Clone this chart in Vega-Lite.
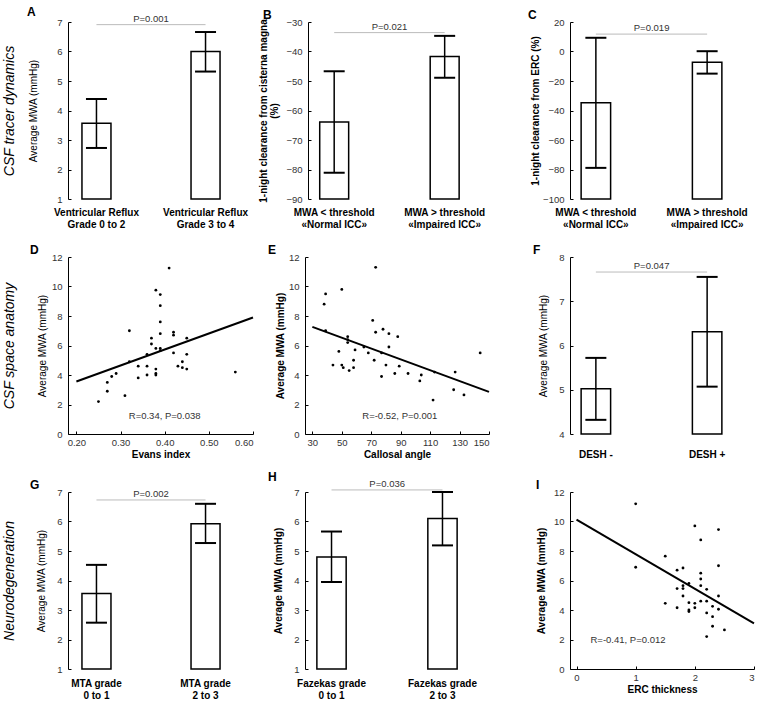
{
  "$schema": "https://vega.github.io/schema/vega-lite/v6.json",
  "padding": {"left": 2, "top": 5, "right": 0, "bottom": 0},
  "bounds": "flush",
  "columns": 3,
  "spacing": {"row": 58, "column": 52},
  "config": {
    "font": "Liberation Sans",
    "view": {"stroke": null},
    "axis": {"grid": false, "domainColor": "#000", "domainWidth": 1, "tickColor": "#000", "tickSize": -3, "labelColor": "#333", "labelFontSize": 9.5, "labelPadding": 9, "labelOverlap": false, "titleFontSize": 10, "titleFontWeight": "normal", "titleColor": "#000"},
    "title": {"fontSize": 12, "fontWeight": "bold", "anchor": "start", "frame": "group", "offset": -5, "color": "#000"}
  },
  "concat": [
    {
      "width": 166, "height": 177,
      "title": {"text": "A", "dx": -41},
      "resolve": {"scale": {"y": "independent"}},
      "layer": [
        {
          "data": {"values": [
            {"group": "Ventricular Reflux\nGrade 0 to 2", "mean": 3.57, "lo": 2.73, "hi": 4.39},
            {"group": "Ventricular Reflux\nGrade 3 to 4", "mean": 6.0, "lo": 5.32, "hi": 6.66}
          ]},
          "layer": [
            {"mark": {"type": "bar", "fill": "white", "stroke": "black", "strokeWidth": 1.5},
             "encoding": {
               "x": {"field": "group", "type": "nominal", "scale": {"domain": ["Ventricular Reflux\nGrade 0 to 2", "Ventricular Reflux\nGrade 3 to 4"], "paddingInner": 0.734, "paddingOuter": 0.128},
                     "axis": {"title": null, "domain": false, "ticks": false, "labelAngle": 0, "labelFontWeight": "bold", "labelFontSize": 10, "labelColor": "#000", "labelPadding": 8, "labelLineHeight": 12, "labelExpr": "split(datum.label, '\\n')"}},
               "y": {"field": "mean", "type": "quantitative", "scale": {"domain": [1, 7], "nice": false, "zero": false},
                     "axis": {"values": [1, 2, 3, 4, 5, 6, 7], "tickCount": 20, "format": "d", "labelOverlap": false, "title": "Average MWA (mmHg)", "titlePadding": 18}},
               "y2": {"datum": 1}
             }},
            {"mark": {"type": "rule", "strokeWidth": 1.5, "color": "black"},
             "encoding": {"x": {"field": "group", "type": "nominal"}, "y": {"field": "lo", "type": "quantitative"}, "y2": {"field": "hi"}}},
            {"mark": {"type": "tick", "thickness": 2, "size": 21, "orient": "horizontal", "color": "black", "opacity": 1},
             "encoding": {"x": {"field": "group", "type": "nominal"}, "y": {"field": "lo", "type": "quantitative"}}},
            {"mark": {"type": "tick", "thickness": 2, "size": 21, "orient": "horizontal", "color": "black", "opacity": 1},
             "encoding": {"x": {"field": "group", "type": "nominal"}, "y": {"field": "hi", "type": "quantitative"}}}
          ]
        },
        {
          "layer": [
            {"data": {"values": [{"group": "Ventricular Reflux\nGrade 0 to 2", "p": 6.91}, {"group": "Ventricular Reflux\nGrade 3 to 4", "p": 6.91}]},
             "mark": {"type": "line", "stroke": "#bbb", "strokeWidth": 1},
             "encoding": {"x": {"field": "group", "type": "nominal"},
                          "y": {"field": "p", "type": "quantitative", "scale": {"domain": [1, 7], "nice": false, "zero": false},
                                "axis": {"orient": "left", "offset": 52, "domain": false, "ticks": false, "labels": false, "title": "CSF tracer dynamics", "titleFontStyle": "italic", "titleFontWeight": "normal", "titleFontSize": 14, "titlePadding": 0}}}},
            {"data": {"values": [{"group": "Ventricular Reflux\nGrade 0 to 2", "p": 6.91, "label": "P=0.001"}]},
             "mark": {"type": "text", "baseline": "bottom", "dy": -1, "fontSize": 9.5, "color": "#333"},
             "encoding": {"x": {"field": "group", "type": "nominal", "bandPosition": 2.38}, "y": {"field": "p", "type": "quantitative"}, "text": {"field": "label"}}}
          ]
        }
      ]
    },
    {
      "width": 213, "height": 177,
      "title": {"text": "B", "dx": -42},
      "layer": [
        {
          "data": {"values": [
            {"group": "MWA < threshold\n«Normal ICC»", "mean": -63.9, "lo": -81.1, "hi": -46.7},
            {"group": "MWA > threshold\n«Impaired ICC»", "mean": -41.7, "lo": -48.9, "hi": -34.7}
          ]},
          "layer": [
            {"mark": {"type": "bar", "fill": "white", "stroke": "black", "strokeWidth": 1.5},
             "encoding": {
               "x": {"field": "group", "type": "nominal", "scale": {"domain": ["MWA < threshold\n«Normal ICC»", "MWA > threshold\n«Impaired ICC»"], "paddingInner": 0.738, "paddingOuter": 0.333, "align": 0.2},
                     "axis": {"title": null, "domain": false, "ticks": false, "labelAngle": 0, "labelFontWeight": "bold", "labelFontSize": 10, "labelColor": "#000", "labelPadding": 8, "labelLineHeight": 12, "labelExpr": "split(datum.label, '\\n')"}},
               "y": {"field": "mean", "type": "quantitative", "scale": {"domain": [-90, -30], "nice": false, "zero": false},
                     "axis": {"offset": -3, "values": [-90, -80, -70, -60, -50, -40, -30], "tickCount": 20, "format": "d", "labelOverlap": false, "title": ["1-night clearance from cisterna magna", "(%)"], "titleFontWeight": "bold", "titleLineHeight": 11, "titlePadding": 6}},
               "y2": {"datum": -90}
             }},
            {"mark": {"type": "rule", "strokeWidth": 1.5, "color": "black"},
             "encoding": {"x": {"field": "group", "type": "nominal"}, "y": {"field": "lo", "type": "quantitative"}, "y2": {"field": "hi"}}},
            {"mark": {"type": "tick", "thickness": 2, "size": 21, "orient": "horizontal", "color": "black", "opacity": 1},
             "encoding": {"x": {"field": "group", "type": "nominal"}, "y": {"field": "lo", "type": "quantitative"}}},
            {"mark": {"type": "tick", "thickness": 2, "size": 21, "orient": "horizontal", "color": "black", "opacity": 1},
             "encoding": {"x": {"field": "group", "type": "nominal"}, "y": {"field": "hi", "type": "quantitative"}}}
          ]
        },
        {"data": {"values": [{"group": "MWA < threshold\n«Normal ICC»", "p": -33.6}, {"group": "MWA > threshold\n«Impaired ICC»", "p": -33.6}]},
         "mark": {"type": "line", "stroke": "#bbb", "strokeWidth": 1},
         "encoding": {"x": {"field": "group", "type": "nominal"}, "y": {"field": "p", "type": "quantitative"}}},
        {"data": {"values": [{"group": "MWA < threshold\n«Normal ICC»", "p": -33.6, "label": "P=0.021"}]},
         "mark": {"type": "text", "baseline": "bottom", "dy": -1, "fontSize": 9.5, "color": "#333"},
         "encoding": {"x": {"field": "group", "type": "nominal", "bandPosition": 2.41}, "y": {"field": "p", "type": "quantitative"}, "text": {"field": "label"}}}
      ]
    },
    {
      "width": 163, "height": 177,
      "title": {"text": "C", "dx": -42},
      "layer": [
        {
          "data": {"values": [
            {"group": "MWA < threshold\n«Normal ICC»", "mean": -34.8, "lo": -78.9, "hi": 9.3},
            {"group": "MWA > threshold\n«Impaired ICC»", "mean": -7.3, "lo": -15.0, "hi": 0.2}
          ]},
          "layer": [
            {"mark": {"type": "bar", "fill": "white", "stroke": "black", "strokeWidth": 1.5},
             "encoding": {
               "x": {"field": "group", "type": "nominal", "scale": {"domain": ["MWA < threshold\n«Normal ICC»", "MWA > threshold\n«Impaired ICC»"], "paddingInner": 0.735, "paddingOuter": 0.1},
                     "axis": {"title": null, "domain": false, "ticks": false, "labelAngle": 0, "labelFontWeight": "bold", "labelFontSize": 10, "labelColor": "#000", "labelPadding": 8, "labelLineHeight": 12, "labelExpr": "split(datum.label, '\\n')"}},
               "y": {"field": "mean", "type": "quantitative", "scale": {"domain": [-100, 20], "nice": false, "zero": false},
                     "axis": {"values": [-100, -80, -60, -40, -20, 0, 20], "tickCount": 20, "format": "d", "labelOverlap": false, "title": "1-night clearance from ERC (%)", "titleFontWeight": "bold", "titlePadding": 2}},
               "y2": {"datum": -100}
             }},
            {"mark": {"type": "rule", "strokeWidth": 1.5, "color": "black"},
             "encoding": {"x": {"field": "group", "type": "nominal"}, "y": {"field": "lo", "type": "quantitative"}, "y2": {"field": "hi"}}},
            {"mark": {"type": "tick", "thickness": 2, "size": 21, "orient": "horizontal", "color": "black", "opacity": 1},
             "encoding": {"x": {"field": "group", "type": "nominal"}, "y": {"field": "lo", "type": "quantitative"}}},
            {"mark": {"type": "tick", "thickness": 2, "size": 21, "orient": "horizontal", "color": "black", "opacity": 1},
             "encoding": {"x": {"field": "group", "type": "nominal"}, "y": {"field": "hi", "type": "quantitative"}}}
          ]
        },
        {"data": {"values": [{"group": "MWA < threshold\n«Normal ICC»", "p": 11.8}, {"group": "MWA > threshold\n«Impaired ICC»", "p": 11.8}]},
         "mark": {"type": "line", "stroke": "#bbb", "strokeWidth": 1},
         "encoding": {"x": {"field": "group", "type": "nominal"}, "y": {"field": "p", "type": "quantitative"}}},
        {"data": {"values": [{"group": "MWA < threshold\n«Normal ICC»", "p": 11.8, "label": "P=0.019"}]},
         "mark": {"type": "text", "baseline": "bottom", "dy": -1, "fontSize": 9.5, "color": "#333"},
         "encoding": {"x": {"field": "group", "type": "nominal", "bandPosition": 2.39}, "y": {"field": "p", "type": "quantitative"}, "text": {"field": "label"}}}
      ]
    },
    {
      "width": 185, "height": 177,
      "title": {"text": "D", "dx": -38},
      "resolve": {"scale": {"y": "independent"}},
      "layer": [
        {"data": {"values": [
          {"x": 0.25, "y": 2.2}, {"x": 0.27, "y": 3.5}, {"x": 0.27, "y": 2.9}, {"x": 0.28, "y": 3.9}, {"x": 0.29, "y": 4.1},
          {"x": 0.31, "y": 2.6}, {"x": 0.32, "y": 7.0}, {"x": 0.32, "y": 4.9}, {"x": 0.34, "y": 4.6}, {"x": 0.34, "y": 3.8},
          {"x": 0.36, "y": 5.4}, {"x": 0.36, "y": 4.6}, {"x": 0.36, "y": 4.0}, {"x": 0.37, "y": 6.5}, {"x": 0.37, "y": 6.1},
          {"x": 0.38, "y": 9.75}, {"x": 0.38, "y": 5.8}, {"x": 0.38, "y": 4.4}, {"x": 0.38, "y": 4.1}, {"x": 0.38, "y": 4.0},
          {"x": 0.39, "y": 9.45}, {"x": 0.39, "y": 8.7}, {"x": 0.39, "y": 7.6}, {"x": 0.39, "y": 6.8}, {"x": 0.39, "y": 5.8},
          {"x": 0.39, "y": 5.65}, {"x": 0.41, "y": 11.25}, {"x": 0.42, "y": 6.9}, {"x": 0.42, "y": 6.7}, {"x": 0.42, "y": 5.5},
          {"x": 0.43, "y": 4.6}, {"x": 0.44, "y": 4.9}, {"x": 0.44, "y": 4.5}, {"x": 0.45, "y": 6.5}, {"x": 0.45, "y": 5.4},
          {"x": 0.45, "y": 4.4}, {"x": 0.56, "y": 4.2}
        ]},
         "mark": {"type": "circle", "size": 8, "color": "black", "opacity": 1},
         "encoding": {
           "x": {"field": "x", "type": "quantitative", "scale": {"domain": [0.181, 0.6], "nice": false, "zero": false},
                 "axis": {"values": [0.2, 0.3, 0.4, 0.5, 0.6], "tickCount": 20, "labelOverlap": false, "format": ".2f", "title": "Evans index", "titleFontWeight": "bold", "labelPadding": 6, "titlePadding": 3}},
           "y": {"field": "y", "type": "quantitative", "scale": {"domain": [0, 12], "nice": false},
                 "axis": {"values": [0, 2, 4, 6, 8, 10, 12], "tickCount": 20, "format": "d", "labelOverlap": false, "title": "Average MWA (mmHg)", "titlePadding": 4}}
         }},
        {
          "layer": [
            {"data": {"values": [{"x": 0.2, "y": 3.56}, {"x": 0.6, "y": 7.9}]},
             "mark": {"type": "line", "color": "black", "strokeWidth": 2},
             "encoding": {"x": {"field": "x", "type": "quantitative"},
                          "y": {"field": "y", "type": "quantitative", "scale": {"domain": [0, 12], "nice": false},
                                "axis": {"orient": "left", "offset": 52, "domain": false, "ticks": false, "labels": false, "title": "CSF space anatomy", "titleFontStyle": "italic", "titleFontWeight": "normal", "titleFontSize": 14, "titlePadding": 0}}}},
            {"data": {"values": [{"x": 0.4, "y": 1.2, "label": "R=0.34, P=0.038"}]},
             "mark": {"type": "text", "fontSize": 9.5, "color": "#333"},
             "encoding": {"x": {"field": "x", "type": "quantitative"}, "y": {"field": "y", "type": "quantitative"}, "text": {"field": "label"}}}
          ]
        }
      ]
    },
    {
      "width": 184, "height": 177,
      "title": {"text": "E", "dx": -37},
      "layer": [
        {"data": {"values": [
          {"x": 38, "y": 8.8}, {"x": 39, "y": 9.5}, {"x": 39, "y": 7.0}, {"x": 50, "y": 9.8}, {"x": 44, "y": 4.67},
          {"x": 48, "y": 5.6}, {"x": 50, "y": 4.67}, {"x": 51, "y": 4.5}, {"x": 54, "y": 6.6}, {"x": 54, "y": 6.4},
          {"x": 54, "y": 6.2}, {"x": 55, "y": 4.3}, {"x": 58, "y": 5.0}, {"x": 58, "y": 4.5}, {"x": 59, "y": 5.7},
          {"x": 65, "y": 5.9}, {"x": 68, "y": 5.5}, {"x": 71, "y": 7.7}, {"x": 72, "y": 5.0}, {"x": 73, "y": 6.9},
          {"x": 73, "y": 11.3}, {"x": 77, "y": 3.9}, {"x": 77, "y": 5.5}, {"x": 78, "y": 7.1}, {"x": 80, "y": 4.67},
          {"x": 82, "y": 6.8}, {"x": 82, "y": 5.9}, {"x": 86, "y": 4.1}, {"x": 88, "y": 6.6}, {"x": 89, "y": 4.6},
          {"x": 95, "y": 4.1}, {"x": 103, "y": 3.6}, {"x": 104, "y": 4.0}, {"x": 112, "y": 2.3}, {"x": 113, "y": 4.2},
          {"x": 126, "y": 3.0}, {"x": 127, "y": 4.2}, {"x": 133, "y": 2.65}, {"x": 144, "y": 5.5}
        ]},
         "mark": {"type": "circle", "size": 8, "color": "black", "opacity": 1},
         "encoding": {
           "x": {"field": "x", "type": "quantitative", "scale": {"domain": [25, 150], "nice": false, "zero": false},
                 "axis": {"values": [30, 50, 70, 90, 110, 130, 150], "tickCount": 20, "format": "d", "labelOverlap": false, "title": "Callosal angle", "titleFontWeight": "bold", "labelPadding": 6, "titlePadding": 3}},
           "y": {"field": "y", "type": "quantitative", "scale": {"domain": [0, 12], "nice": false},
                 "axis": {"values": [0, 2, 4, 6, 8, 10, 12], "tickCount": 20, "format": "d", "labelOverlap": false, "title": "Average MWA (mmHg)", "titleFontWeight": "bold", "titlePadding": 3}}
         }},
        {"data": {"values": [{"x": 30, "y": 7.26}, {"x": 150, "y": 2.86}]},
         "mark": {"type": "line", "color": "black", "strokeWidth": 2},
         "encoding": {"x": {"field": "x", "type": "quantitative"}, "y": {"field": "y", "type": "quantitative"}}},
        {"data": {"values": [{"x": 89.4, "y": 1.25, "label": "R=-0.52, P=0.001"}]},
         "mark": {"type": "text", "fontSize": 9.5, "color": "#333"},
         "encoding": {"x": {"field": "x", "type": "quantitative"}, "y": {"field": "y", "type": "quantitative"}, "text": {"field": "label"}}}
      ]
    },
    {
      "width": 163, "height": 177,
      "title": {"text": "F", "dx": -37},
      "layer": [
        {
          "data": {"values": [
            {"group": "DESH -", "mean": 5.02, "lo": 4.32, "hi": 5.72},
            {"group": "DESH +", "mean": 6.31, "lo": 5.07, "hi": 7.55}
          ]},
          "layer": [
            {"mark": {"type": "bar", "fill": "white", "stroke": "black", "strokeWidth": 1.5},
             "encoding": {
               "x": {"field": "group", "type": "nominal", "scale": {"domain": ["DESH -", "DESH +"], "paddingInner": 0.735, "paddingOuter": 0.1},
                     "axis": {"title": null, "domain": false, "ticks": false, "labelAngle": 0, "labelFontWeight": "bold", "labelFontSize": 10, "labelColor": "#000", "labelPadding": 15}},
               "y": {"field": "mean", "type": "quantitative", "scale": {"domain": [4, 8], "nice": false, "zero": false},
                     "axis": {"values": [4, 5, 6, 7, 8], "tickCount": 20, "format": "d", "labelOverlap": false, "title": "Average MWA (mmHg)", "titlePadding": 10}},
               "y2": {"datum": 4}
             }},
            {"mark": {"type": "rule", "strokeWidth": 1.5, "color": "black"},
             "encoding": {"x": {"field": "group", "type": "nominal"}, "y": {"field": "lo", "type": "quantitative"}, "y2": {"field": "hi"}}},
            {"mark": {"type": "tick", "thickness": 2, "size": 21, "orient": "horizontal", "color": "black", "opacity": 1},
             "encoding": {"x": {"field": "group", "type": "nominal"}, "y": {"field": "lo", "type": "quantitative"}}},
            {"mark": {"type": "tick", "thickness": 2, "size": 21, "orient": "horizontal", "color": "black", "opacity": 1},
             "encoding": {"x": {"field": "group", "type": "nominal"}, "y": {"field": "hi", "type": "quantitative"}}}
          ]
        },
        {"data": {"values": [{"group": "DESH -", "p": 7.66}, {"group": "DESH +", "p": 7.66}]},
         "mark": {"type": "line", "stroke": "#bbb", "strokeWidth": 1},
         "encoding": {"x": {"field": "group", "type": "nominal"}, "y": {"field": "p", "type": "quantitative"}}},
        {"data": {"values": [{"group": "DESH -", "p": 7.66, "label": "P=0.047"}]},
         "mark": {"type": "text", "baseline": "bottom", "dy": -1, "fontSize": 9.5, "color": "#333"},
         "encoding": {"x": {"field": "group", "type": "nominal", "bandPosition": 2.39}, "y": {"field": "p", "type": "quantitative"}, "text": {"field": "label"}}}
      ]
    },
    {
      "width": 166, "height": 177,
      "title": {"text": "G", "dx": -38},
      "resolve": {"scale": {"y": "independent"}},
      "layer": [
        {
          "data": {"values": [
            {"group": "MTA grade\n0 to 1", "mean": 3.56, "lo": 2.57, "hi": 4.53},
            {"group": "MTA grade\n2 to 3", "mean": 5.92, "lo": 5.27, "hi": 6.6}
          ]},
          "layer": [
            {"mark": {"type": "bar", "fill": "white", "stroke": "black", "strokeWidth": 1.5},
             "encoding": {
               "x": {"field": "group", "type": "nominal", "scale": {"domain": ["MTA grade\n0 to 1", "MTA grade\n2 to 3"], "paddingInner": 0.734, "paddingOuter": 0.128},
                     "axis": {"title": null, "domain": false, "ticks": false, "labelAngle": 0, "labelFontWeight": "bold", "labelFontSize": 10, "labelColor": "#000", "labelPadding": 9, "labelLineHeight": 12, "labelExpr": "split(datum.label, '\\n')"}},
               "y": {"field": "mean", "type": "quantitative", "scale": {"domain": [1, 7], "nice": false, "zero": false},
                     "axis": {"values": [1, 2, 3, 4, 5, 6, 7], "tickCount": 20, "format": "d", "labelOverlap": false, "title": "Average MWA (mmHg)", "titlePadding": 10}},
               "y2": {"datum": 1}
             }},
            {"mark": {"type": "rule", "strokeWidth": 1.5, "color": "black"},
             "encoding": {"x": {"field": "group", "type": "nominal"}, "y": {"field": "lo", "type": "quantitative"}, "y2": {"field": "hi"}}},
            {"mark": {"type": "tick", "thickness": 2, "size": 21, "orient": "horizontal", "color": "black", "opacity": 1},
             "encoding": {"x": {"field": "group", "type": "nominal"}, "y": {"field": "lo", "type": "quantitative"}}},
            {"mark": {"type": "tick", "thickness": 2, "size": 21, "orient": "horizontal", "color": "black", "opacity": 1},
             "encoding": {"x": {"field": "group", "type": "nominal"}, "y": {"field": "hi", "type": "quantitative"}}}
          ]
        },
        {
          "layer": [
            {"data": {"values": [{"group": "MTA grade\n0 to 1", "p": 6.73}, {"group": "MTA grade\n2 to 3", "p": 6.73}]},
             "mark": {"type": "line", "stroke": "#bbb", "strokeWidth": 1},
             "encoding": {"x": {"field": "group", "type": "nominal"},
                          "y": {"field": "p", "type": "quantitative", "scale": {"domain": [1, 7], "nice": false, "zero": false},
                                "axis": {"orient": "left", "offset": 52, "domain": false, "ticks": false, "labels": false, "title": "Neurodegeneration", "titleFontStyle": "italic", "titleFontWeight": "normal", "titleFontSize": 14, "titlePadding": 0}}}},
            {"data": {"values": [{"group": "MTA grade\n0 to 1", "p": 6.73, "label": "P=0.002"}]},
             "mark": {"type": "text", "baseline": "bottom", "dy": -1, "fontSize": 9.5, "color": "#333"},
             "encoding": {"x": {"field": "group", "type": "nominal", "bandPosition": 2.38}, "y": {"field": "p", "type": "quantitative"}, "text": {"field": "label"}}}
          ]
        }
      ]
    },
    {
      "width": 164, "height": 177,
      "title": {"text": "H", "dx": -37},
      "layer": [
        {
          "data": {"values": [
            {"group": "Fazekas grade\n0 to 1", "mean": 4.8, "lo": 3.95, "hi": 5.66},
            {"group": "Fazekas grade\n2 to 3", "mean": 6.1, "lo": 5.19, "hi": 7.0}
          ]},
          "layer": [
            {"mark": {"type": "bar", "fill": "white", "stroke": "black", "strokeWidth": 1.5},
             "encoding": {
               "x": {"field": "group", "type": "nominal", "scale": {"domain": ["Fazekas grade\n0 to 1", "Fazekas grade\n2 to 3"], "paddingInner": 0.736, "paddingOuter": 0.107},
                     "axis": {"title": null, "domain": false, "ticks": false, "labelAngle": 0, "labelFontWeight": "bold", "labelFontSize": 10, "labelColor": "#000", "labelPadding": 9, "labelLineHeight": 12, "labelExpr": "split(datum.label, '\\n')"}},
               "y": {"field": "mean", "type": "quantitative", "scale": {"domain": [1, 7], "nice": false, "zero": false},
                     "axis": {"values": [1, 2, 3, 4, 5, 6, 7], "tickCount": 20, "format": "d", "labelOverlap": false, "title": "Average MWA (mmHg)", "titleFontWeight": "bold", "titlePadding": 10}},
               "y2": {"datum": 1}
             }},
            {"mark": {"type": "rule", "strokeWidth": 1.5, "color": "black"},
             "encoding": {"x": {"field": "group", "type": "nominal"}, "y": {"field": "lo", "type": "quantitative"}, "y2": {"field": "hi"}}},
            {"mark": {"type": "tick", "thickness": 2, "size": 21, "orient": "horizontal", "color": "black", "opacity": 1},
             "encoding": {"x": {"field": "group", "type": "nominal"}, "y": {"field": "lo", "type": "quantitative"}}},
            {"mark": {"type": "tick", "thickness": 2, "size": 21, "orient": "horizontal", "color": "black", "opacity": 1},
             "encoding": {"x": {"field": "group", "type": "nominal"}, "y": {"field": "hi", "type": "quantitative"}}}
          ]
        },
        {"data": {"values": [{"group": "Fazekas grade\n0 to 1", "p": 7.07}, {"group": "Fazekas grade\n2 to 3", "p": 7.07}]},
         "mark": {"type": "line", "stroke": "#bbb", "strokeWidth": 1, "clip": false},
         "encoding": {"x": {"field": "group", "type": "nominal"}, "y": {"field": "p", "type": "quantitative"}}},
        {"data": {"values": [{"group": "Fazekas grade\n0 to 1", "p": 7.07, "label": "P=0.036"}]},
         "mark": {"type": "text", "baseline": "bottom", "dy": -1, "fontSize": 9.5, "color": "#333"},
         "encoding": {"x": {"field": "group", "type": "nominal", "bandPosition": 2.4}, "y": {"field": "p", "type": "quantitative"}, "text": {"field": "label"}}}
      ]
    },
    {
      "width": 184, "height": 177,
      "title": {"text": "I", "dx": -34},
      "layer": [
        {"data": {"values": [
          {"x": 1.0, "y": 11.2}, {"x": 1.0, "y": 6.9}, {"x": 1.5, "y": 7.65}, {"x": 1.5, "y": 4.45}, {"x": 1.7, "y": 6.7},
          {"x": 1.7, "y": 5.45}, {"x": 1.7, "y": 4.15}, {"x": 1.8, "y": 6.85}, {"x": 1.8, "y": 5.65}, {"x": 1.8, "y": 5.45},
          {"x": 1.8, "y": 4.95}, {"x": 1.9, "y": 5.8}, {"x": 1.9, "y": 4.5}, {"x": 1.9, "y": 4.0}, {"x": 1.9, "y": 3.9},
          {"x": 2.0, "y": 9.7}, {"x": 2.0, "y": 4.45}, {"x": 2.0, "y": 4.15}, {"x": 2.1, "y": 8.75}, {"x": 2.1, "y": 6.5},
          {"x": 2.1, "y": 6.1}, {"x": 2.1, "y": 5.65}, {"x": 2.1, "y": 4.6}, {"x": 2.2, "y": 5.4}, {"x": 2.2, "y": 4.6},
          {"x": 2.2, "y": 3.8}, {"x": 2.2, "y": 2.2}, {"x": 2.3, "y": 4.25}, {"x": 2.3, "y": 3.55}, {"x": 2.3, "y": 2.9},
          {"x": 2.4, "y": 9.45}, {"x": 2.4, "y": 7.0}, {"x": 2.4, "y": 4.95}, {"x": 2.4, "y": 4.05}, {"x": 2.5, "y": 2.65}
        ]},
         "mark": {"type": "circle", "size": 8, "color": "black", "opacity": 1},
         "encoding": {
           "x": {"field": "x", "type": "quantitative", "scale": {"domain": [-0.11, 3], "nice": false, "zero": false},
                 "axis": {"values": [0, 1, 2, 3], "tickCount": 20, "labelOverlap": false, "format": "d", "title": "ERC thickness", "titleFontWeight": "bold", "labelPadding": 6, "titlePadding": 3}},
           "y": {"field": "y", "type": "quantitative", "scale": {"domain": [0, 12], "nice": false},
                 "axis": {"values": [0, 2, 4, 6, 8, 10, 12], "tickCount": 20, "format": "d", "labelOverlap": false, "title": "Average MWA (mmHg)", "titleFontWeight": "bold", "titlePadding": 7}}
         }},
        {"data": {"values": [{"x": 0, "y": 10.12}, {"x": 3, "y": 3.1}]},
         "mark": {"type": "line", "color": "black", "strokeWidth": 2},
         "encoding": {"x": {"field": "x", "type": "quantitative"}, "y": {"field": "y", "type": "quantitative"}}},
        {"data": {"values": [{"x": 0.87, "y": 1.97, "label": "R=-0.41, P=0.012"}]},
         "mark": {"type": "text", "fontSize": 9.5, "color": "#333"},
         "encoding": {"x": {"field": "x", "type": "quantitative"}, "y": {"field": "y", "type": "quantitative"}, "text": {"field": "label"}}}
      ]
    }
  ]
}
